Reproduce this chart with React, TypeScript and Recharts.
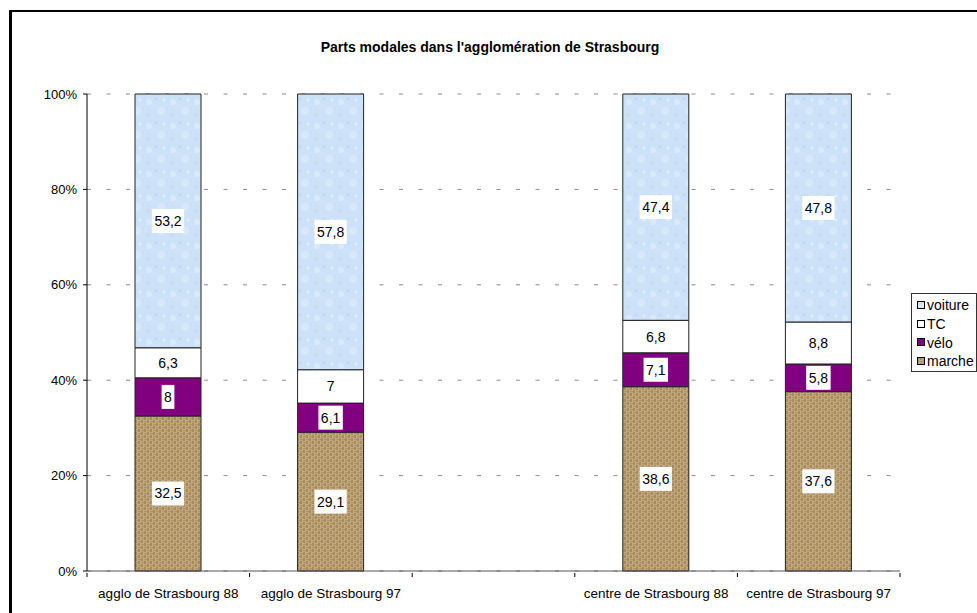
import { Bar, BarChart, CartesianGrid, LabelList, XAxis, YAxis } from 'recharts';

const categories = [
  'agglo de Strasbourg 88',
  'agglo de Strasbourg 97',
  '',
  'centre de Strasbourg 88',
  'centre de Strasbourg 97',
];
const marche = [32.5, 29.1, null, 38.6, 37.6];
const velo = [8, 6.1, null, 7.1, 5.8];
const tc = [6.3, 7, null, 6.8, 8.8];
const voiture = [53.2, 57.8, null, 47.4, 47.8];
const yTicks = [0, 0.2, 0.4, 0.6, 0.8, 1];

const FONT = "Arial, 'Liberation Sans', sans-serif";

const data = categories.map((name, i) => ({
  name,
  marche: marche[i],
  velo: velo[i],
  tc: tc[i],
  voiture: voiture[i],
}));

const legendItems = [
  { key: 'voiture', label: 'voiture', fill: 'url(#paper)' },
  { key: 'tc', label: 'TC', fill: '#ffffff' },
  { key: 'velo', label: 'vélo', fill: '#800080' },
  { key: 'marche', label: 'marche', fill: 'url(#burlap)' },
];

function textWidth(s: string, size: number) {
  let w = 0;
  for (const c of s) w += c === ',' ? 0.278 : 0.556;
  return w * size;
}

function SegmentLabel(props: any) {
  const { x, y, width, height, value } = props;
  if (value == null) return null;
  const text = String(value).replace('.', ',');
  const cx = x + width / 2;
  const cy = y + height / 2;
  const w = textWidth(text, 14) + 5;
  const h = 24;
  return (
    <g>
      <rect x={cx - w / 2} y={cy - h / 2} width={w} height={h} fill="#fff" />
      <text x={cx} y={cy} dy={5} textAnchor="middle" fontSize={14} fontFamily={FONT} fill="#000">
        {text}
      </text>
    </g>
  );
}

function CategoryTick(props: any) {
  const { x, y, payload, index, visibleTicksCount } = props;
  const half = payload?.offset ?? 0;
  const axisY = y - 6;
  return (
    <g>
      <line x1={x - half} x2={x - half} y1={axisY} y2={axisY + 4} stroke="#000" />
      {index === visibleTicksCount - 1 && (
        <line x1={x + half} x2={x + half} y1={axisY} y2={axisY + 4} stroke="#000" />
      )}
      <text x={x} y={axisY + 25} textAnchor="middle" fontSize={13.5} fontFamily={FONT} fill="#000">
        {payload.value}
      </text>
    </g>
  );
}

function LegendBox() {
  return (
    <div
      style={{
        position: 'absolute',
        left: 911,
        top: 293,
        border: '1px solid #333',
        width: 66,
        height: 79,
        boxSizing: 'border-box',
        paddingTop: 2,
        background: '#fff',
      }}
    >
      {legendItems.map((it) => (
        <div key={it.key} style={{ display: 'flex', alignItems: 'center', height: 18.7, fontFamily: FONT, fontSize: 14 }}>
          <svg width={10} height={9} style={{ marginLeft: 5, marginRight: 0 }}>
            <rect x={0.5} y={0.5} width={7} height={7} fill={it.fill} stroke="#000" />
          </svg>
          <span>{it.label}</span>
        </div>
      ))}
    </div>
  );
}

export default function App() {
  return (
    <div
      style={{
        position: 'fixed',
        left: 0,
        top: 0,
        width: 977,
        height: 613,
        overflow: 'hidden',
        background: '#fff',
      }}
    >
      <div
        style={{
          position: 'absolute',
          left: 9,
          top: 10,
          width: 1200,
          height: 900,
          borderLeft: '3px solid #000',
          borderTop: '2px solid #000',
        }}
      />
      <div
        style={{
          position: 'absolute',
          left: 0,
          width: 980,
          top: 39,
          textAlign: 'center',
          fontFamily: FONT,
          fontWeight: 'bold',
          fontSize: 14,
        }}
      >
        Parts modales dans l'agglomération de Strasbourg
      </div>
      <div style={{ position: 'absolute', left: 0, top: 0 }}>
        <BarChart
          width={977}
          height={613}
          data={data}
          stackOffset="expand"
          margin={{ top: 94, right: 77, bottom: 0, left: 0 }}
        >
          <defs>
            <pattern id="burlap" width="6" height="6" patternUnits="userSpaceOnUse">
              <rect width="6" height="6" fill="#6e5028" />
              <rect x="0" y="0.3" width="3" height="1.1" fill="#e4d0a8" />
              <rect x="0" y="1.7" width="3" height="1.1" fill="#d2b787" />
              <rect x="3" y="3.3" width="3" height="1.1" fill="#e4d0a8" />
              <rect x="3" y="4.7" width="3" height="1.1" fill="#d2b787" />
              <rect x="3.3" y="0" width="1.1" height="3" fill="#c4a470" />
              <rect x="4.7" y="0" width="1.1" height="3" fill="#dac396" />
              <rect x="0.3" y="3" width="1.1" height="3" fill="#c4a470" />
              <rect x="1.7" y="3" width="1.1" height="3" fill="#dac396" />
            </pattern>
            <pattern id="paper" width="24" height="24" patternUnits="userSpaceOnUse">
              <rect width="24" height="24" fill="#cde2f8" />
              <circle cx="5" cy="6" r="3" fill="#e4effc" opacity="0.6" />
              <circle cx="17" cy="15" r="4" fill="#e0edfb" opacity="0.5" />
              <circle cx="12" cy="3" r="2" fill="#bcd5f1" opacity="0.5" />
              <circle cx="4" cy="19" r="2.5" fill="#c0d8f2" opacity="0.5" />
              <circle cx="20" cy="4" r="1.5" fill="#eef5fd" opacity="0.6" />
            </pattern>
          </defs>
          <CartesianGrid vertical={false} stroke="#8a8a8a" strokeDasharray="4 15.5" />
          <XAxis
            dataKey="name"
            height={42}
            axisLine={{ stroke: '#555' }}
            tickLine={false}
            tick={<CategoryTick />}
            interval={0}
          />
          <YAxis
            width={87}
            domain={[0, 1]}
            ticks={yTicks}
            tickFormatter={(v) => `${Math.round(v * 100)}%`}
            axisLine={{ stroke: '#000' }}
            tickLine={{ stroke: '#000' }}
            tickSize={4}
            tickMargin={6}
            tick={{ fill: '#000', fontSize: 13, fontFamily: FONT }}
          />
          <Bar dataKey="marche" stackId="a" barSize={66} fill="url(#burlap)" stroke="#222" isAnimationActive={false}>
            <LabelList dataKey="marche" content={<SegmentLabel />} />
          </Bar>
          <Bar dataKey="velo" stackId="a" barSize={66} fill="#800080" stroke="#222" isAnimationActive={false}>
            <LabelList dataKey="velo" content={<SegmentLabel />} />
          </Bar>
          <Bar dataKey="tc" stackId="a" barSize={66} fill="#ffffff" stroke="#222" isAnimationActive={false}>
            <LabelList dataKey="tc" content={<SegmentLabel />} />
          </Bar>
          <Bar dataKey="voiture" stackId="a" barSize={66} fill="url(#paper)" stroke="#222" isAnimationActive={false}>
            <LabelList dataKey="voiture" content={<SegmentLabel />} />
          </Bar>
        </BarChart>
      </div>
      <LegendBox />
    </div>
  );
}
